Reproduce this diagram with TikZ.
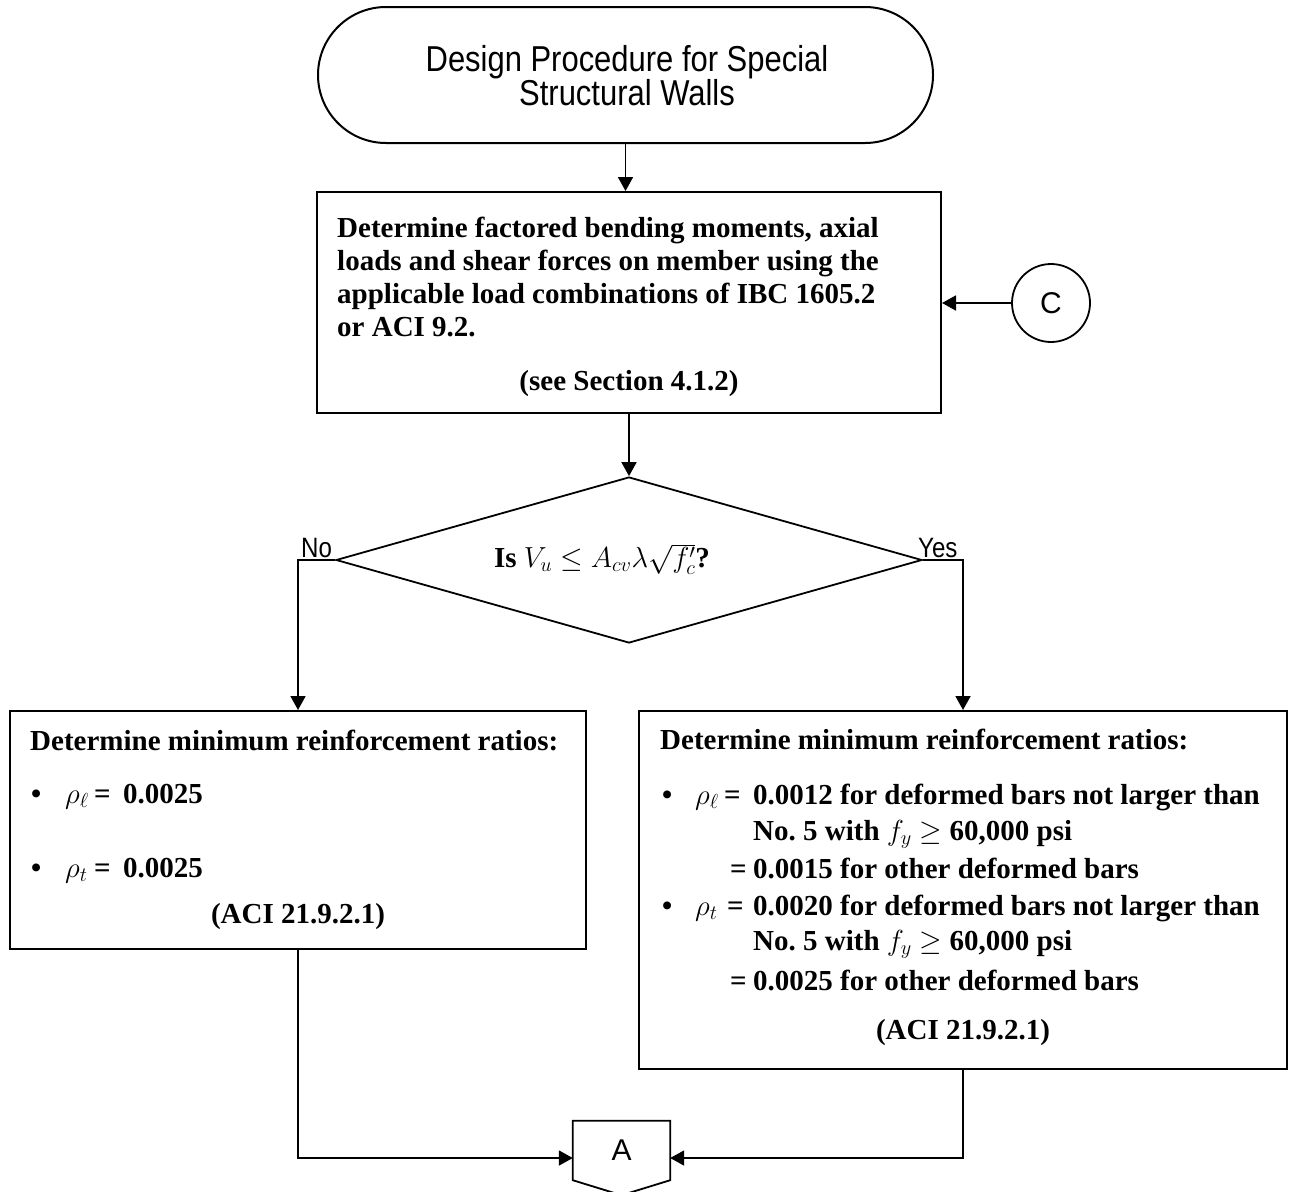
\RequirePackage{fix-cm}
\documentclass[tikz,border=0pt]{standalone}
\usepackage{fontspec}
\setmainfont{Liberation Serif}
\newfontfamily\sansA{Liberation Sans}
\newfontfamily\sansN{Liberation Sans}[FakeStretch=0.86]
\usetikzlibrary{shapes.geometric,shapes.misc,arrows.meta,calc}
\newcommand{\bodyf}{\fontsize{29}{33}\selectfont\bfseries}
\newcommand{\sansf}{\sansN\fontsize{36}{33}\selectfont}
\begin{document}
\begin{tikzpicture}[x=1pt,y=-1pt]
\tikzset{
  boxnode/.style={draw, line width=2pt, rectangle, inner sep=0pt},
  conn/.style={line width=1.8pt, -{Triangle[length=14pt,width=15pt]}},
  ln/.style={anchor=base west, inner sep=0pt, font=\bodyf},
  lnc/.style={anchor=base, inner sep=0pt, font=\bodyf},
  lbl/.style={anchor=base west, inner sep=0pt, font=\sansN\fontsize{28}{28}\selectfont},
  bigsans/.style={inner sep=0pt, font=\sansA\fontsize{30}{30}\selectfont},
}
\useasboundingbox (0,0) rectangle (1292,1191);

% start terminator
\node[boxnode, rounded rectangle, minimum width=615pt, minimum height=136pt] (start) at (625.5,75) {};
\node[font=\sansf, align=center, inner sep=0pt] (starttxt) at (627,75.5) {Design Procedure for Special\\Structural Walls};

% box 1
\node[boxnode, minimum width=624pt, minimum height=221pt] (box1) at (629,302.5) {};
\node[ln] (b1a) at (337,237) {Determine factored bending moments, axial};
\node[ln] (b1b) at (337,270) {loads and shear forces on member using the};
\node[ln] (b1c) at (337,303) {applicable load combinations of IBC 1605.2};
\node[ln] (b1d) at (337,336) {or ACI 9.2.};
\node[lnc] (b1e) at (629,390) {(see Section 4.1.2)};

% connector C
\node[draw, circle, line width=1.8pt, minimum size=78pt, bigsans] (C) at (1051,303) {C};

% decision
\node[draw, diamond, line width=1.8pt, minimum width=586pt, minimum height=166pt, inner sep=0pt] (dia) at (629,560) {};
\node[lnc] (diatxt) at (602,567) {Is $V_u \leq A_{cv}\lambda\sqrt{f_c'}$?};
\node[lbl] (no) at (301,557) {No};
\node[lbl] (yes) at (918,557) {Yes};

% left box
\node[boxnode, minimum width=576pt, minimum height=238pt] (lbox) at (298,830) {};
\node[ln] (l0) at (30,750) {Determine minimum reinforcement ratios:};
\node[ln] (l1) at (31,803) {\makebox[34pt][l]{\textbullet}\makebox[29pt][l]{$\rho_\ell$}\makebox[29pt][l]{=}0.0025};
\node[ln] (l2) at (31,877) {\makebox[34pt][l]{\textbullet}\makebox[29pt][l]{$\rho_t$}\makebox[29pt][l]{=}0.0025};
\node[lnc] (l3) at (298,923) {(ACI 21.9.2.1)};

% right box
\node[boxnode, minimum width=648pt, minimum height=358pt] (rbox) at (963,890) {};
\node[ln] (r0) at (660,749) {Determine minimum reinforcement ratios:};
\node[ln] (r1) at (662,804) {\makebox[33pt][l]{\textbullet}\makebox[29pt][l]{$\rho_\ell$}\makebox[29pt][l]{=}0.0012 for deformed bars not larger than};
\node[ln] (r2) at (753,840) {No.\ 5 with $f_y \geq$ 60,000 psi};
\node[ln] (r3) at (730,878) {\makebox[23pt][l]{=}0.0015 for other deformed bars};
\node[ln] (r4) at (662,915) {\makebox[33pt][l]{\textbullet}\makebox[32pt][l]{$\rho_t$}\makebox[26pt][l]{=}0.0020 for deformed bars not larger than};
\node[ln] (r5) at (753,950) {No.\ 5 with $f_y \geq$ 60,000 psi};
\node[ln] (r6) at (730,990) {\makebox[23pt][l]{=}0.0025 for other deformed bars};
\node[lnc] (r7) at (963,1039) {(ACI 21.9.2.1)};

% off-page connector A
\node[minimum width=97pt, minimum height=74pt, inner sep=0pt] (A) at (621.5,1158) {};
\draw[line width=1.8pt] (A.north west) -- (A.north east) -- ($(A.south east)+(0,-15)$) -- (A.south) -- ($(A.south west)+(0,-15)$) -- cycle;
\node[bigsans] (Atxt) at (621.5,1150) {A};

% connectors
\draw[conn] (start.south) -- (start.south |- box1.north);
\draw[conn] (C.west) -- (C.west -| box1.east);
\draw[conn] (box1.south) -- (dia.north);
\draw[conn] (dia.west) -| (lbox.north);
\draw[conn] (dia.east) -| (rbox.north);
\draw[conn] (lbox.south) |- (A.west);
\draw[conn] (rbox.south) |- (A.east);
\end{tikzpicture}
\end{document}
